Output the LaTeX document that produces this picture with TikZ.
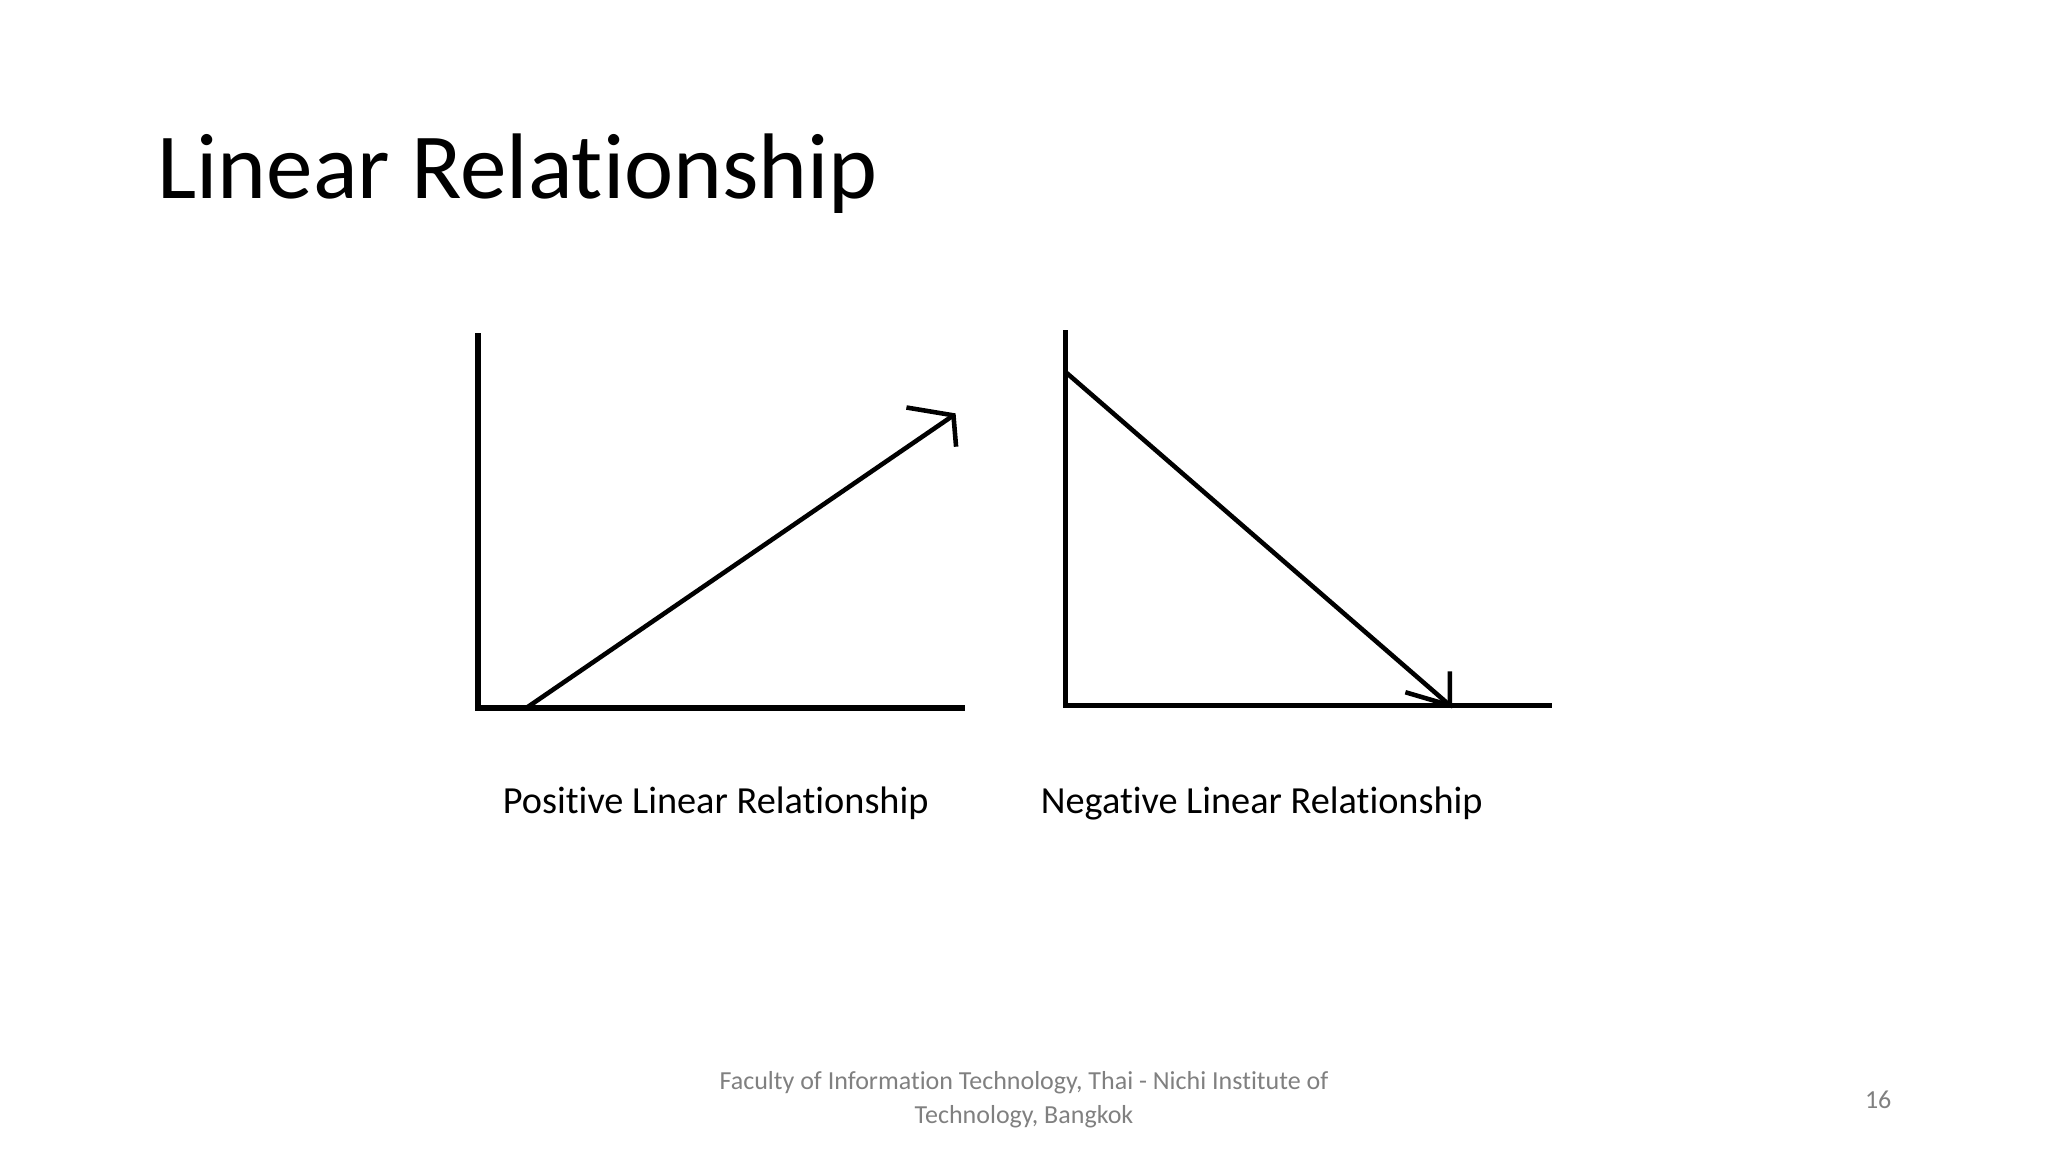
\documentclass[tikz,border=0pt]{standalone}
\usepackage{fontspec}
\setmainfont[Ligatures=NoCommon]{Carlito}
\begin{document}
\begin{tikzpicture}[x=0.013061cm,y=-0.013061cm,
  axis/.style={line width=1.5pt},
  trend/.style={line width=1.3pt},
  lbl/.style={font=\fontsize{10.9}{12}\selectfont},
  foot/.style={font=\fontsize{7.4}{9.6}\selectfont,text=gray,align=center}]
\useasboundingbox (0,0) rectangle (1568,882);
\node[anchor=base west,inner sep=0,font=\fontsize{26.5}{32}\selectfont] (title) at (120,152) {Linear Relationship};
% left chart
\coordinate (ltop) at (366,255); \coordinate (lo) at (366,542); \coordinate (lr) at (739,542);
\draw[axis] (ltop) -- (lo) -- (lr);
\coordinate (ls) at (403,542); \coordinate (le) at (730,318);
\coordinate (la1) at (694,312); \coordinate (la2) at (732,342);
\draw[trend] (ls) -- (le);
\draw[trend] (la1) -- (le) -- (la2);
% right chart
\coordinate (rtop) at (816,253); \coordinate (ro) at (816,540); \coordinate (rr) at (1188,540);
\draw[axis] (rtop) -- (ro) -- (rr);
\coordinate (rs) at (816,285); \coordinate (re) at (1110,540);
\coordinate (ra1) at (1076,530); \coordinate (ra2) at (1110,514);
\draw[trend] (rs) -- (re);
\draw[trend] (ra1) -- (re) -- (ra2);
\node[lbl] (pl) at (548,615) {Positive Linear Relationship};
\node[lbl] (nl) at (966,615) {Negative Linear Relationship};
\node[foot] (ft) at (784,842) {Faculty of Information Technology, Thai - Nichi Institute of\\Technology, Bangkok};
\node[foot] (pg) at (1438,842) {16};
\end{tikzpicture}
\end{document}
